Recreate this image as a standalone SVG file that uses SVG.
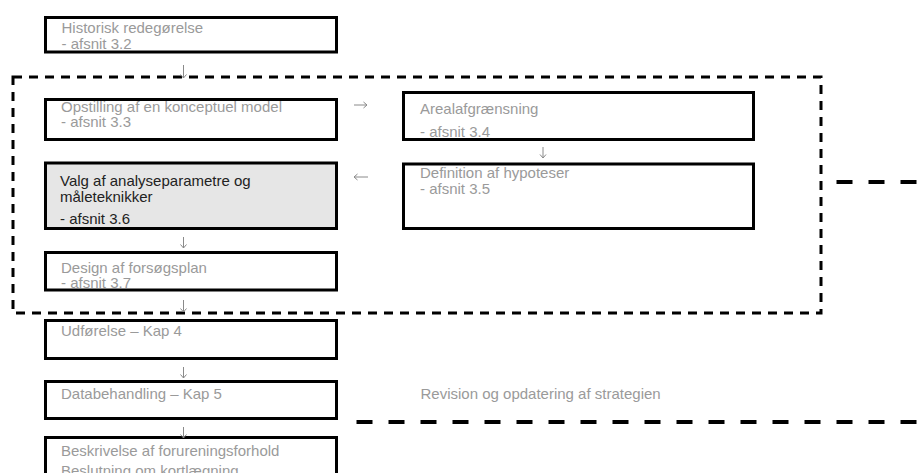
<svg xmlns="http://www.w3.org/2000/svg" width="923" height="473" viewBox="0 0 923 473">
  <style>
    .box { fill: #ffffff; stroke: #000000; stroke-width: 3; }
    .box.hl { fill: #e6e6e6; }
    .t { font-family: "Liberation Sans", Arial, sans-serif; font-size: 15px; fill: #9a9a9a; }
    .t.dark { fill: #222222; }
    .arrow { fill: none; stroke: #8a8a8a; stroke-width: 1; }
    .frame { fill: none; stroke: #000000; stroke-width: 3; stroke-dasharray: 9 7; }
    .feedback { fill: none; stroke: #000000; stroke-width: 4; stroke-dasharray: 16 16; }
  </style>
  <defs>
    <marker id="head" markerWidth="8" markerHeight="8" refX="6" refY="4" orient="auto" markerUnits="userSpaceOnUse">
      <path d="M2.5,1 L6,4 L2.5,7" fill="none" stroke="#8a8a8a" stroke-width="1"/>
    </marker>
  </defs>
  <rect width="923" height="473" fill="#ffffff"/>

  <!-- dashed frame around the strategy steps and the revision lines -->
  <g id="frames">
    <rect class="frame" x="13" y="77" width="808" height="236"/>
    <line class="feedback" x1="836.5" y1="182" x2="923" y2="182"/>
    <line class="feedback" x1="356.5" y1="422" x2="923" y2="422"/>
  </g>

  <g id="historisk">
    <rect class="box" x="45.5" y="17.5" width="291" height="34.5"/>
    <text class="t" x="61.5" y="33">Historisk redegørelse</text>
    <text class="t" x="61.5" y="49"> - afsnit 3.2</text>
  </g>

  <g id="opstilling">
    <rect class="box" x="45.5" y="99.5" width="291" height="40"/>
    <text class="t" x="61" y="111.5">Opstilling af en konceptuel model</text>
    <text class="t" x="61" y="127">- afsnit 3.3</text>
  </g>

  <g id="valg">
    <rect class="box hl" x="45.5" y="163" width="291" height="65.5"/>
    <text class="t dark" x="60" y="186">Valg af analyseparametre og</text>
    <text class="t dark" x="60" y="201.5">måleteknikker</text>
    <text class="t dark" x="60" y="224">- afsnit 3.6</text>
  </g>

  <g id="areal">
    <rect class="box" x="403.5" y="92.5" width="350" height="47"/>
    <text class="t" x="420" y="114">Arealafgrænsning</text>
    <text class="t" x="420" y="137">- afsnit 3.4</text>
  </g>

  <g id="definition">
    <rect class="box" x="403.5" y="164" width="350" height="64.5"/>
    <text class="t" x="420" y="178">Definition af hypoteser</text>
    <text class="t" x="420" y="194">- afsnit 3.5</text>
  </g>

  <g id="design">
    <rect class="box" x="45.5" y="252.5" width="291" height="37.5"/>
    <text class="t" x="61" y="272.5">Design af forsøgsplan</text>
    <text class="t" x="61" y="288">- afsnit 3.7</text>
  </g>

  <g id="udfoerelse">
    <rect class="box" x="45.5" y="320.5" width="291" height="38"/>
    <text class="t" x="61" y="336">Udførelse – Kap 4</text>
  </g>

  <g id="databehandling">
    <rect class="box" x="45.5" y="381.5" width="291" height="37"/>
    <text class="t" x="61" y="399">Databehandling – Kap 5</text>
  </g>

  <g id="beskrivelse">
    <rect class="box" x="45.5" y="437.5" width="291" height="50"/>
    <text class="t" x="61" y="456">Beskrivelse af forureningsforhold</text>
    <text class="t" x="61" y="475.5">Beslutning om kortlægning</text>
  </g>

  <g id="revision">
    <text class="t" x="420.5" y="399">Revision og opdatering af strategien</text>
  </g>

  <g id="connectors">
    <line class="arrow" x1="183.5" y1="65" x2="183.5" y2="78" marker-end="url(#head)"/>
    <line class="arrow" x1="354" y1="105" x2="367" y2="105" marker-end="url(#head)"/>
    <line class="arrow" x1="543" y1="147" x2="543" y2="158" marker-end="url(#head)"/>
    <line class="arrow" x1="368" y1="177" x2="354" y2="177" marker-end="url(#head)"/>
    <line class="arrow" x1="183.5" y1="237" x2="183.5" y2="248" marker-end="url(#head)"/>
    <line class="arrow" x1="183.5" y1="300" x2="183.5" y2="312" marker-end="url(#head)"/>
    <line class="arrow" x1="183.5" y1="367" x2="183.5" y2="378" marker-end="url(#head)"/>
    <line class="arrow" x1="183.5" y1="427" x2="183.5" y2="438" marker-end="url(#head)"/>
  </g>
</svg>
